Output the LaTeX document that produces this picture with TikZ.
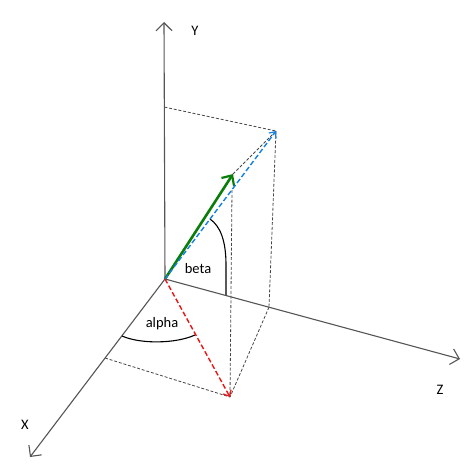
\documentclass[tikz,border=0pt]{standalone}
\usepackage{fontspec}
\setmainfont{Carlito}
\usetikzlibrary{arrows.meta,calc}
\definecolor{axisgray}{RGB}{85,85,85}
\definecolor{vgreen}{RGB}{10,125,10}
\definecolor{vblue}{RGB}{20,130,225}
\definecolor{vred}{RGB}{235,20,20}
\definecolor{guidegray}{RGB}{70,70,70}
\begin{document}
\begin{tikzpicture}[x=1pt,y=-1pt,
  axisline/.style={line width=1.1pt,draw=axisgray,-{Straight Barb[length=8pt,width=16pt,line width=1.1pt]}},
  guide/.style={draw=guidegray,line width=0.8pt,dash pattern=on 3pt off 1.8pt},
  vecdash/.style={line width=1.4pt,dash pattern=on 5pt off 2.5pt,-{Straight Barb[length=5pt,width=9pt,line width=1.2pt]}},
  anglearc/.style={draw=black,line width=1.1pt},
  lbl/.style={font=\fontsize{14.5}{16}\selectfont,inner sep=0pt}
]
\useasboundingbox (0,0) rectangle (474,469);
% key points
\coordinate (O) at (165,279);
\coordinate (Ytip) at (164,22);
\coordinate (Ztip) at (460,359);
\coordinate (Xtip) at (30,457);
\coordinate (B) at (276,131);
\coordinate (G) at (233,174);
\coordinate (R) at (230,397);
\coordinate (Yp) at ($(O)!0.669!(Ytip)$);
\coordinate (Zp) at ($(O)!0.3525!(Ztip)$);
\coordinate (Xp) at ($(O)!0.444!(Xtip)$);
\coordinate (Gb) at (232,190);
% guide lines
\draw[guide] (Yp) -- (B);
\draw[guide] (G) -- (B);
\draw[guide] (B) -- (Zp);
\draw[guide] (Zp) -- (R);
\draw[guide] (Gb) -- (R);
\draw[guide] (Xp) -- (R);
% axes
\draw[axisline] (O) -- (Ytip);
\draw[axisline] (O) -- (Ztip);
\draw[axisline] (O) -- (Xtip);
% angle arcs
\draw[anglearc] (210,219) .. controls (220,226) and (226,240) .. (226,265) -- (226,295);
\draw[anglearc] (122,336) .. controls (140,344) and (175,344) .. (195,335);
% vectors
\draw[vgreen,line width=2.6pt,-{Straight Barb[length=8pt,width=15pt,line width=2.2pt]}] (O) -- (G);
\draw[vecdash,draw=vblue] (O) -- (B);
\draw[vecdash,draw=vred] (O) -- (R);
% labels
\node[lbl] (ly) at (195,31) {Y};
\node[lbl] (lx) at (25,425) {X};
\node[lbl] (lz) at (440,390) {Z};
\node[lbl] (lbeta) at (198,269) {beta};
\node[lbl] (lalpha) at (162,324) {alpha};
\end{tikzpicture}
\end{document}
